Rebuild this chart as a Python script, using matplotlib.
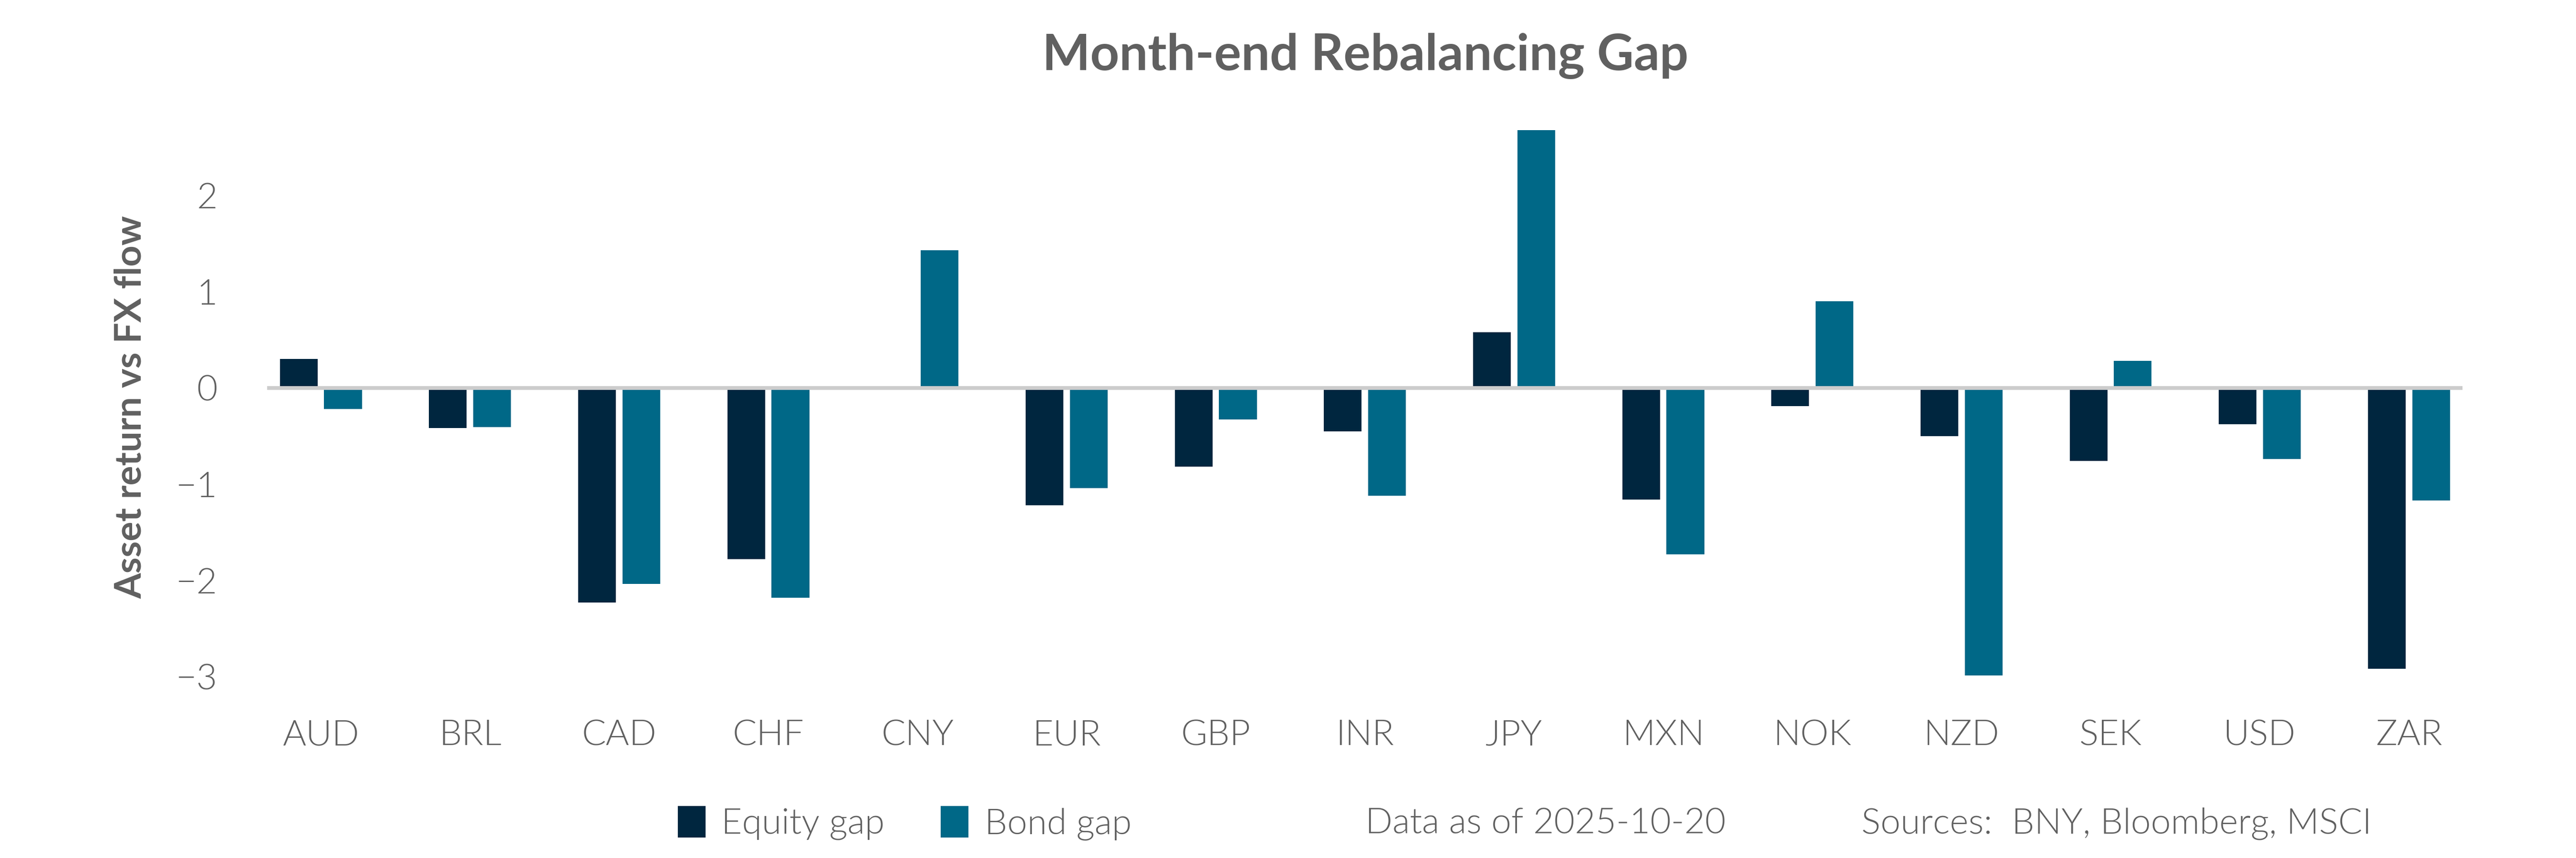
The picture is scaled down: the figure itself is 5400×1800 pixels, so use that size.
import numpy as np
import matplotlib.pyplot as plt
from matplotlib.patches import Patch

plt.rcParams['font.family'] = ['Lato', 'DejaVu Sans']

# данные
currencies = ["AUD", "BRL", "CAD", "CHF", "CNY", "EUR", "GBP", "INR",
              "JPY", "MXN", "NOK", "NZD", "SEK", "USD", "ZAR"]
equity_gap = [0.30, -0.42, -2.23, -1.78, 0.0, -1.22, -0.82, -0.45,
              0.58, -1.16, -0.19, -0.50, -0.76, -0.38, -2.92]
bond_gap = [-0.22, -0.41, -2.04, -2.18, 1.43, -1.04, -0.33, -1.12,
            2.68, -1.73, 0.90, -2.99, 0.28, -0.74, -1.17]

equity_color = "#00263f"
bond_color = "#006887"
text_color = "#606060"
light = 300  # Lato Light, а не Hairline

fig = plt.figure(figsize=(18, 6), dpi=300)
ax = fig.add_axes([0.1037, 0.178, 0.8523, 0.695])

x = np.arange(len(currencies))
w = 0.253
off = w / 2 + 0.022
ax.bar(x - off, equity_gap, width=w, color=equity_color, zorder=2)
ax.bar(x + off, bond_gap, width=w, color=bond_color, zorder=2)
ax.axhline(0, color="#cccccc", lw=1.9, zorder=3)

ax.set_xlim(-0.36, len(currencies) - 1 + 0.36)
ax.set_ylim(-3.3, 2.9)
ax.set_yticks([-3, -2, -1, 0, 1, 2])
ax.set_yticklabels(["\u22123", "\u22122", "\u22121", "0", "1", "2"])
ax.set_xticks(x)
ax.set_xticklabels(currencies)
ax.tick_params(axis="both", length=0, labelsize=18, colors=text_color)
ax.tick_params(axis="y", pad=25)
ax.tick_params(axis="x", pad=7)
for lab in ax.get_xticklabels() + ax.get_yticklabels():
    lab.set_fontweight(light)
for s in ax.spines.values():
    s.set_visible(False)

ax.set_ylabel("Asset return vs FX flow", fontsize=18.5, fontweight="bold", color=text_color)
ax.yaxis.set_label_coords(-0.0545, 0.5)

fig.text(0.530, 0.935, "Month-end Rebalancing Gap", ha="center", va="center",
         fontsize=25.5, fontweight="bold", color=text_color)

handles = [Patch(color=equity_color, label="Equity gap"),
           Patch(color=bond_color, label="Bond gap")]
leg = fig.legend(handles=handles, loc="center left", bbox_to_anchor=(0.2635, 0.04),
                 ncol=2, frameon=False, fontsize=18, borderpad=0, borderaxespad=0,
                 handlelength=0.72, handleheight=0.9, handletextpad=0.47, columnspacing=1.6)
for t in leg.get_texts():
    t.set_color(text_color)
    t.set_fontweight(light)

fig.text(0.530, 0.04, "Data as of 2025-10-20", ha="left", va="center",
         fontsize=18, fontweight=light, color=text_color)
fig.text(0.7226, 0.04, "Sources:  BNY, Bloomberg, MSCI", ha="left", va="center",
         fontsize=18, fontweight=light, color=text_color)

fig.savefig("out.png", dpi=300, facecolor="white")
